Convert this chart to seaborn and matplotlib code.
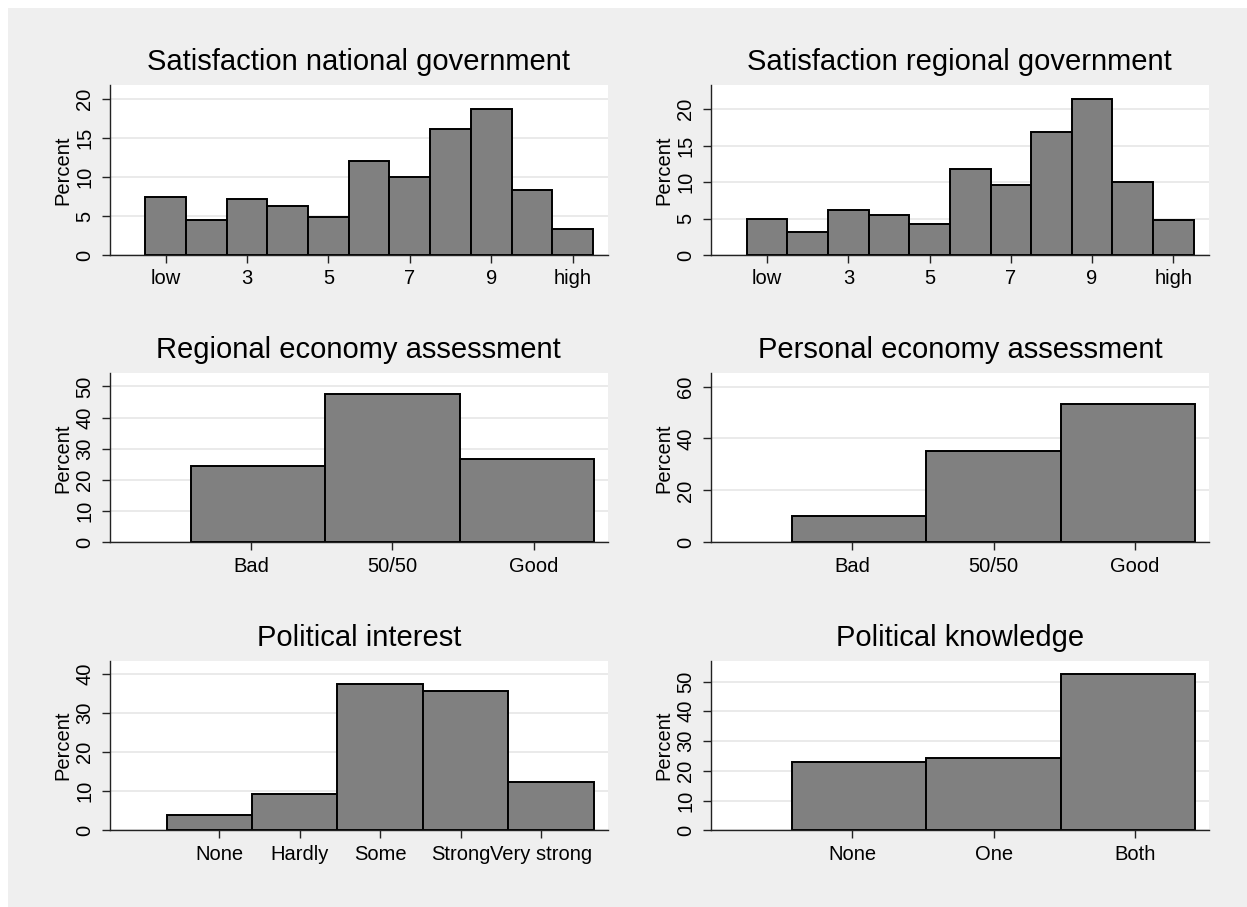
import numpy as np
import pandas as pd
import matplotlib
matplotlib.use("Agg")
import matplotlib.pyplot as plt
import seaborn as sns
from matplotlib.patches import Rectangle

# values (percent of respondents)
sat_levels = [1, 2, 3, 4, 5, 6, 7, 8, 9, 10, 11]
sat_national = [7.4, 4.5, 7.2, 6.3, 4.9, 12.1, 10.0, 16.1, 18.7, 8.3, 3.3]
sat_regional = [4.9, 3.1, 6.2, 5.5, 4.2, 11.8, 9.6, 16.9, 21.4, 10.0, 4.8]
sat_ticks = [1, 3, 5, 7, 9, 11]
sat_labels = ["low", "3", "5", "7", "9", "high"]

econ_levels = [1, 2, 3]
econ_labels = ["Bad", "50/50", "Good"]
econ_regional = [24.5, 47.6, 26.8]
econ_personal = [10.3, 35.2, 53.4]

interest_levels = [1, 2, 3, 4, 5]
interest_labels = ["None", "Hardly", "Some", "Strong", "Very strong"]
interest_pct = [3.8, 9.2, 37.6, 35.8, 12.4]

knowledge_levels = [1, 2, 3]
knowledge_labels = ["None", "One", "Both"]
knowledge_pct = [22.8, 24.2, 52.4]

sns.set_style("white")
plt.rcParams["font.family"] = ["Liberation Sans", "DejaVu Sans"]
plt.rcParams["text.color"] = "black"
plt.rcParams["axes.labelcolor"] = "black"
plt.rcParams["xtick.labelcolor"] = "black"
plt.rcParams["ytick.labelcolor"] = "black"

W, H = 1247, 907
fig = plt.figure(figsize=(W / 100, H / 100), dpi=100, facecolor="white")
fig.patches.append(Rectangle((8 / W, 0), 1, 1 - 8 / H, transform=fig.transFigure,
                             facecolor="#efefef", edgecolor="none", zorder=-10))

PX = 1 / 1.389  # pixels -> points


def make_ax(left, top, right, bottom):
    return fig.add_axes([left / W, 1 - bottom / H, (right - left) / W, (bottom - top) / H])


def draw(ax, title, levels, pct, ticks, labels, edges, xlim, ylim, yticks):
    df = pd.DataFrame({"value": levels, "pct": pct})
    sns.histplot(data=df, x="value", weights="pct", bins=list(edges), ax=ax,
                 color="#808080", alpha=1, edgecolor="black", linewidth=1.4)
    ax.set_facecolor("white")
    ax.set_xlim(*xlim)
    ax.set_ylim(*ylim)
    ax.set_xticks(ticks)
    ax.set_xticklabels(labels)
    ax.set_yticks(yticks)
    ax.set_xlabel("")
    ax.set_ylabel("Percent", fontsize=14.5, color="black")
    ax.yaxis.set_label_coords(-0.075, 0.5)
    ax.set_title(title, fontsize=21, pad=10.8, color="black")
    ax.yaxis.grid(True, color="#e8e8e8", lw=1.3)
    ax.xaxis.grid(False)
    ax.set_axisbelow(True)
    for s in ["top", "right"]:
        ax.spines[s].set_visible(False)
    for s in ["left", "bottom"]:
        ax.spines[s].set_color("#222222")
        ax.spines[s].set_linewidth(1.0)
    ax.tick_params(axis="y", length=7.6 * PX, pad=5.5, labelsize=14.5,
                   labelrotation=90, color="#222222", width=1.0, left=True)
    ax.tick_params(axis="x", length=7.6 * PX, pad=4.8, labelsize=14.5,
                   color="#222222", width=1.0, bottom=True)
    for t in ax.get_yticklabels():
        t.set_va("center")


cols = [(109.5, 608), (710.7, 1209)]
rows = [(85, 255), (373.3, 542.3), (661, 830.3)]

sat_edges = np.arange(0.5, 12, 1.0)
three_edges = np.linspace(0.576, 3.424, 4)
five_edges = np.linspace(0.343, 5.653, 6)

ax = make_ax(cols[0][0], rows[0][0], cols[0][1], rows[0][1])
draw(ax, "Satisfaction national government", sat_levels, sat_national, sat_ticks,
     sat_labels, sat_edges, (-0.38, 11.87), (0, 21.8), [0, 5, 10, 15, 20])

ax = make_ax(cols[1][0], rows[0][0], cols[1][1], rows[0][1])
draw(ax, "Satisfaction regional government", sat_levels, sat_regional, sat_ticks,
     sat_labels, sat_edges, (-0.39, 11.88), (0, 23.3), [0, 5, 10, 15, 20])

ax = make_ax(cols[0][0], rows[1][0], cols[0][1], rows[1][1])
draw(ax, "Regional economy assessment", econ_levels, econ_regional, econ_levels,
     econ_labels, three_edges, (0, 3.523), (0, 54.2), [0, 10, 20, 30, 40, 50])

ax = make_ax(cols[1][0], rows[1][0], cols[1][1], rows[1][1])
draw(ax, "Personal economy assessment", econ_levels, econ_personal, econ_levels,
     econ_labels, three_edges, (0, 3.523), (0, 65.1), [0, 20, 40, 60])

ax = make_ax(cols[0][0], rows[2][0], cols[0][1], rows[2][1])
draw(ax, "Political interest", interest_levels, interest_pct, interest_levels,
     interest_labels, five_edges, (-0.366, 5.83), (0, 43.4), [0, 10, 20, 30, 40])

ax = make_ax(cols[1][0], rows[2][0], cols[1][1], rows[2][1])
draw(ax, "Political knowledge", knowledge_levels, knowledge_pct, knowledge_levels,
     knowledge_labels, three_edges, (0, 3.523), (0, 56.9), [0, 10, 20, 30, 40, 50])

fig.savefig("out.png", dpi=100, facecolor=fig.get_facecolor())
